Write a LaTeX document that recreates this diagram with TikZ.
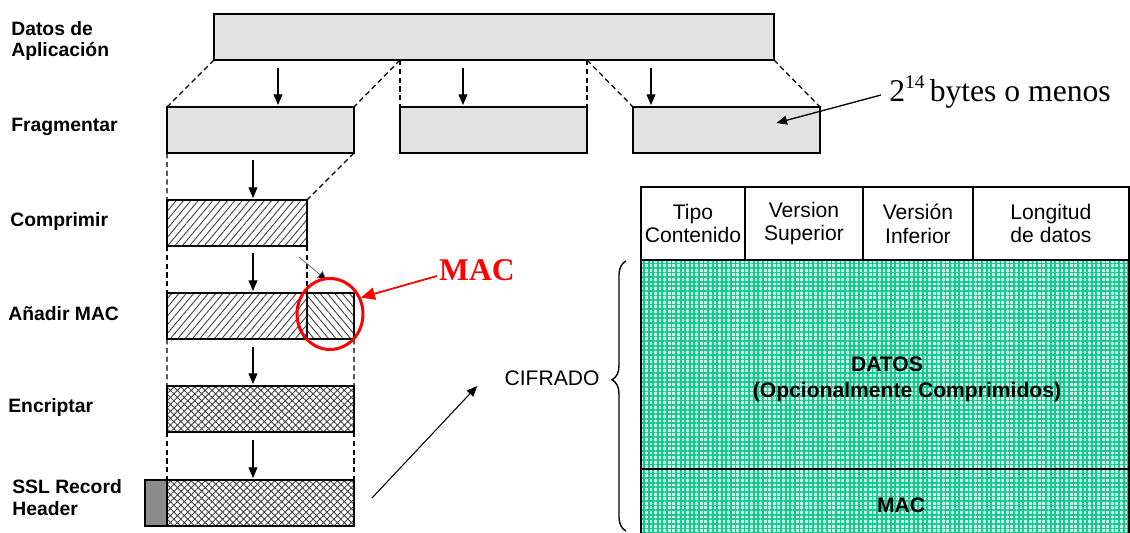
\documentclass[tikz,border=0pt]{standalone}
\usepackage{fontspec}
\setmainfont{Liberation Sans}
\newfontfamily\serifface{Liberation Serif}
\usepackage{tikz}
\usetikzlibrary{arrows.meta, patterns.meta, shapes.geometric, decorations.pathreplacing, positioning}
\definecolor{boxgray}{RGB}{226,226,226}
\definecolor{headgray}{RGB}{140,140,140}
\definecolor{meshgreen}{RGB}{25,200,145}
\tikzset{
    databox/.style={rectangle, draw=black, line width=1.4pt, fill=boxgray, minimum height=0.92cm, inner sep=0pt, outer sep=0pt},
    zipbox/.style={rectangle, draw=black, line width=1.4pt, minimum height=0.92cm, inner sep=0pt, outer sep=0pt, pattern={Lines[angle=50, distance=3.2pt, line width=0.5pt]}, pattern color=black!75},
    macbox/.style={zipbox, pattern={Lines[angle=-50, distance=3.2pt, line width=0.5pt]}},
    cryptbox/.style={zipbox, pattern={Hatch[angle=45, distance=2.8pt, line width=0.5pt]}},
    hdrbox/.style={databox, fill=headgray, minimum width=0.44cm},
    stagelabel/.style={anchor=west, align=left, inner sep=0pt, font=\fontsize{11}{12.5}\selectfont\bfseries},
    guide/.style={line width=0.7pt, dash pattern=on 3pt off 2pt},
    flow/.style={line width=0.6pt, -{Triangle[width=5pt, length=6pt]}},
    field/.style={rectangle, draw=black, line width=1.3pt, minimum height=1.46cm, inner sep=0pt, outer sep=0pt, align=center, font=\fontsize{12}{13.6}\selectfont},
    meshbox/.style={rectangle, draw=black, line width=1.3pt, minimum width=9.76cm, inner sep=0pt, outer sep=0pt, anchor=north west, preaction={fill=meshgreen!22}, pattern={Hatch[angle=0, distance=2.6pt, line width=1pt]}, pattern color=meshgreen},
    meshtext/.style={inner sep=0pt, font=\fontsize{12}{16}\selectfont\bfseries}
}

\begin{document}
\begin{tikzpicture}[x=0.02cm, y=-0.02cm]
    \useasboundingbox (0,0) rectangle (1130,533);

    % Application data and fragments
    \node[databox, minimum width=11.2cm] (app) at (494,37) {};
    \node[databox, minimum width=3.74cm] (frag1) at (260.5,130) {};
    \node[databox, minimum width=3.74cm] (frag2) at (493.5,130) {};
    \node[databox, minimum width=3.74cm] (frag3) at (726.5,130) {};

    % First fragment, step by step
    \node[zipbox, minimum width=2.8cm] (comp) at (237,223) {};
    \node[zipbox, minimum width=2.8cm] (macdata) at (237,316) {};
    \node[macbox, minimum width=0.94cm, right=0pt of macdata] (mac) {};
    \node[cryptbox, minimum width=3.74cm] (enc) at (260.5,409) {};
    \node[cryptbox, minimum width=3.74cm] (ssl) at (260.5,503) {};
    \node[hdrbox, left=0pt of ssl] (hdr) {};

    % Row labels
    \node[stagelabel] (lblapp) at (11,41) {Datos de\\Aplicación};
    \node[stagelabel] (lblfrag) at (11,127) {Fragmentar};
    \node[stagelabel] (lblcomp) at (10,222) {Comprimir};
    \node[stagelabel] (lblmac) at (8,314) {Añadir MAC};
    \node[stagelabel] (lblenc) at (8,408) {Encriptar};
    \node[stagelabel] (lblssl) at (12,498) {SSL Record\\Header};

    % Dashed guides
    \draw[guide] (app.south west) -- (frag1.north west);
    \draw[guide] (app.south -| frag2.north west) -- (frag1.north east);
    \draw[guide] (app.south -| frag2.north west) -- (frag2.north west);
    \draw[guide] (app.south -| frag2.north east) -- (frag2.north east);
    \draw[guide] (app.south -| frag2.north east) -- (frag3.north west);
    \draw[guide] (app.south east) -- (frag3.north east);
    \draw[guide] (frag1.south west) -- (comp.north west);
    \draw[guide] (frag1.south east) -- (comp.north east);
    \draw[guide] (comp.south west) -- (macdata.north west);
    \draw[guide] (comp.south east) -- (mac.north west);
    \draw[guide] (macdata.south west) -- (enc.north west);
    \draw[guide] (mac.south east) -- (enc.north east);
    \draw[guide] (enc.south west) -- (ssl.north west);
    \draw[guide] (enc.south east) -- (ssl.north east);

    % Down arrows
    \coordinate (a1) at (278,105);
    \coordinate (a2) at (463,105);
    \coordinate (a3) at (651,105);
    \coordinate (b1) at (253,198);
    \coordinate (b2) at (253,291);
    \coordinate (b3) at (253,384);
    \coordinate (b4) at (253,478);
    \draw[flow, shorten <=0.16cm] (app.south -| a1) -- (a1);
    \draw[flow, shorten <=0.16cm] (app.south -| a2) -- (a2);
    \draw[flow, shorten <=0.16cm] (app.south -| a3) -- (a3);
    \draw[flow, shorten <=0.14cm] (frag1.south -| b1) -- (b1);
    \draw[flow, shorten <=0.14cm] (comp.south -| b2) -- (b2);
    \draw[flow, shorten <=0.16cm] (macdata.south -| b3) -- (b3);
    \draw[flow, shorten <=0.16cm] (enc.south -| b4) -- (b4);
    \draw[black!60, line width=0.45pt, -{Triangle[width=5pt, length=5pt, fill=black]}] ([shift={(-8,11)}]comp.south east) -- ([shift={(-4,-13)}]mac.north);

    % Size note
    \node[anchor=west, inner sep=0pt, font=\serifface\fontsize{18}{22}\selectfont] (note) at (889,92) {2\raisebox{0.9ex}{\fontsize{11}{11}\selectfont 14}\,bytes o menos};
    \draw[flow, line width=0.75pt] ([shift={(-8,3)}]note.west) -- ([shift={(50,-7)}]frag3.center);

    % MAC highlight
    \node[ellipse, draw=red, line width=1.7pt, minimum width=1.32cm, minimum height=1.42cm, inner sep=0pt] (macring) at (330,314) {};
    \node[text=red, inner sep=0pt, font=\serifface\fontsize{18}{20}\selectfont\bfseries] (maclbl) at (477,270) {MAC};
    \draw[red, line width=1pt, -{Triangle[width=7pt, length=8pt]}] ([shift={(-2,6)}]maclbl.west) -- (macring.28);

    % Record layout
    \node[field, minimum width=2.08cm] (tipo) at (693,223.5) {Tipo\\Contenido};
    \node[field, minimum width=2.36cm, right=0pt of tipo] (vsup) {Version\\Superior};
    \node[field, minimum width=2.2cm, right=0pt of vsup] (vinf) {Versión\\Inferior};
    \node[field, minimum width=3.12cm, right=0pt of vinf] (longd) {Longitud\\de datos};
    \node[meshbox, minimum height=4.18cm] (datos) at (tipo.south west) {};
    \node[meshbox, minimum height=1.5cm] (macfld) at (datos.south west) {};
    \node[meshtext] (datostxt) at (887,364) {DATOS};
    \node[meshtext] (optxt) at (907,392) {(Opcionalmente Comprimidos)};
    \node[meshtext] (mactxt) at (901,505) {MAC};

    % Encrypted part
    \node[inner sep=0pt, font=\fontsize{12}{14}\selectfont] (cifr) at (552,378) {CIFRADO};
    \coordinate (brbot) at (626,531);
    \coordinate (brtop) at (626,261);
    \draw[line width=0.8pt, decorate, decoration={brace, amplitude=0.28cm, aspect=0.56}] (brbot) -- (brtop);
    \draw[flow] ([shift={(18,-5)}]ssl.east) -- ([shift={(-27,8)}]cifr.west);
\end{tikzpicture}
\end{document}
